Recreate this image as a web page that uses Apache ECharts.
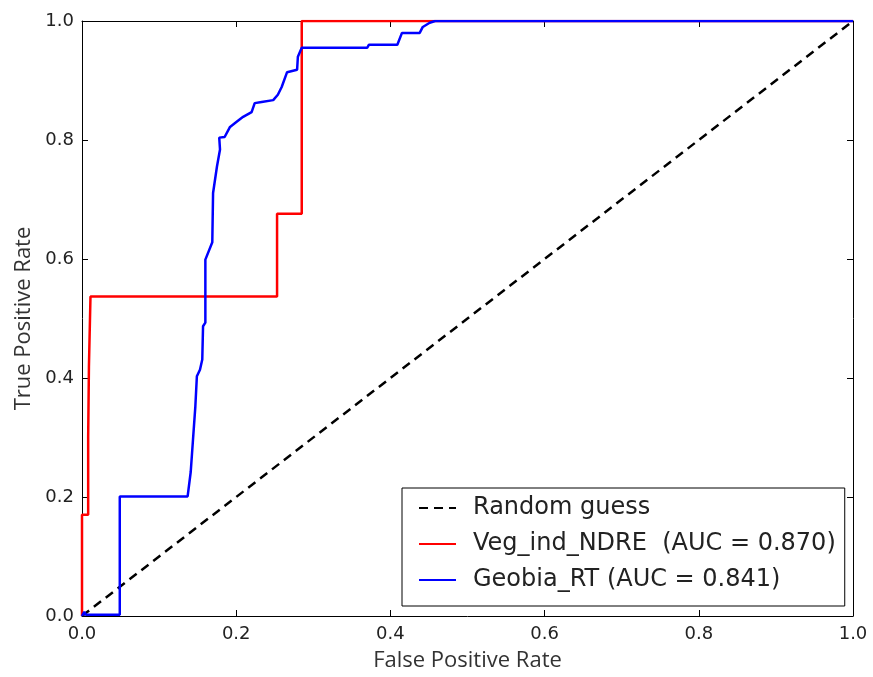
<!DOCTYPE html>
<html>
<head>
<meta charset="utf-8">
<script src="https://cdn.jsdelivr.net/npm/echarts@6/dist/echarts.min.js"></script>
<style>html,body{margin:0;padding:0;background:#fff}#c{width:873px;height:677px}</style>
</head>
<body>
<div id="c"></div>
<script>
const xTicks = [0.0, 0.2, 0.4, 0.6, 0.8, 1.0];
const yTicks = [0.0, 0.2, 0.4, 0.6, 0.8, 1.0];
const randomName = 'Random guess';
const randomFpr = [0, 1];
const randomTpr = [0, 1];
const ndreName = 'Veg_ind_NDRE  (AUC = 0.870)';
const ndreFpr = [0, 0, 0.008, 0.008, 0.009, 0.009, 0.011, 0.011, 0.253, 0.253, 0.285, 0.285, 1];
const ndreTpr = [0, 0.17, 0.17, 0.30, 0.30, 0.42, 0.42, 0.537, 0.537, 0.676, 0.676, 1.0, 1.0];
const rtName = 'Geobia_RT (AUC = 0.841)';
const rtFpr = [0, 0.003, 0.005, 0.049, 0.049, 0.137, 0.141, 0.144, 0.147, 0.149, 0.153, 0.156, 0.157, 0.160, 0.160, 0.169, 0.170, 0.175, 0.179, 0.178, 0.185, 0.192, 0.201, 0.209, 0.220, 0.224, 0.233, 0.248, 0.254, 0.259, 0.266, 0.279, 0.280, 0.285, 0.370, 0.372, 0.409, 0.415, 0.438, 0.442, 0.451, 0.458, 1];
const rtTpr = [0, 0.007, 0.002, 0.002, 0.201, 0.201, 0.242, 0.297, 0.352, 0.403, 0.414, 0.431, 0.487, 0.493, 0.599, 0.628, 0.711, 0.755, 0.784, 0.804, 0.805, 0.822, 0.831, 0.839, 0.847, 0.862, 0.864, 0.867, 0.876, 0.889, 0.914, 0.918, 0.940, 0.955, 0.955, 0.960, 0.960, 0.980, 0.980, 0.990, 0.997, 1.0, 1.0];

const zip = (a, b) => a.map((v, i) => [v, b[i]]);
const tickFont = {fontFamily: 'DejaVu Sans', fontSize: 18, color: '#222'};
const nameFont = {fontFamily: 'Liberation Sans Narrow, Open Sans, sans-serif', fontSize: 22, color: '#333'};
const fmt = v => v.toFixed(1);

function axis(type, pos, show) {
  return {
    type: 'value', position: pos, min: 0, max: 1, interval: 0.2,
    axisLine: {show: true, onZero: false, lineStyle: {color: '#000', width: 1}},
    axisTick: {show: true, inside: true, length: 6, lineStyle: {color: '#000'}},
    splitLine: {show: false},
    axisLabel: show ? Object.assign({show: true, margin: 9, formatter: fmt}, tickFont) : {show: false}
  };
}

const chart = echarts.init(document.getElementById('c'), null, {renderer: 'canvas'});
const xa = axis('x', 'bottom', true);
xa.name = 'False Positive Rate'; xa.nameLocation = 'middle'; xa.nameGap = 34; xa.nameTextStyle = nameFont;
const ya = axis('y', 'left', true);
ya.name = 'True Positive Rate'; ya.nameLocation = 'middle'; ya.nameGap = 47; ya.nameTextStyle = nameFont;
ya.axisLabel.margin = 8;

chart.setOption({
  animation: false,
  backgroundColor: '#fff',
  grid: {left: 82, right: 20, top: 21, bottom: 60},
  xAxis: [xa, axis('x', 'top', false)],
  yAxis: [ya, axis('y', 'right', false)],
  legend: {
    orient: 'vertical', left: 402, top: 488,
    data: [randomName, ndreName, rtName],
    itemWidth: 37, itemHeight: 14, itemGap: 12,
    padding: [8, 9, 14, 16],
    borderColor: '#000', borderWidth: 1, backgroundColor: '#fff',
    itemStyle: {opacity: 0},
    textStyle: {fontFamily: 'DejaVu Sans', fontSize: 24, color: '#222', lineHeight: 24, padding: [0, 0, 0, 12]}
  },
  series: [
    {name: randomName, type: 'line', data: zip(randomFpr, randomTpr), symbol: 'none',
     lineStyle: {color: '#000', width: 2.5, type: [9, 6]}, itemStyle: {color: '#000'}, z: 3},
    {name: ndreName, type: 'line', data: zip(ndreFpr, ndreTpr), symbol: 'none',
     lineStyle: {color: '#ff0000', width: 2.5}, itemStyle: {color: '#ff0000'}, z: 4},
    {name: rtName, type: 'line', data: zip(rtFpr, rtTpr), symbol: 'none',
     lineStyle: {color: '#0000ff', width: 2.5}, itemStyle: {color: '#0000ff'}, z: 5}
  ]
});
</script>
</body>
</html>
